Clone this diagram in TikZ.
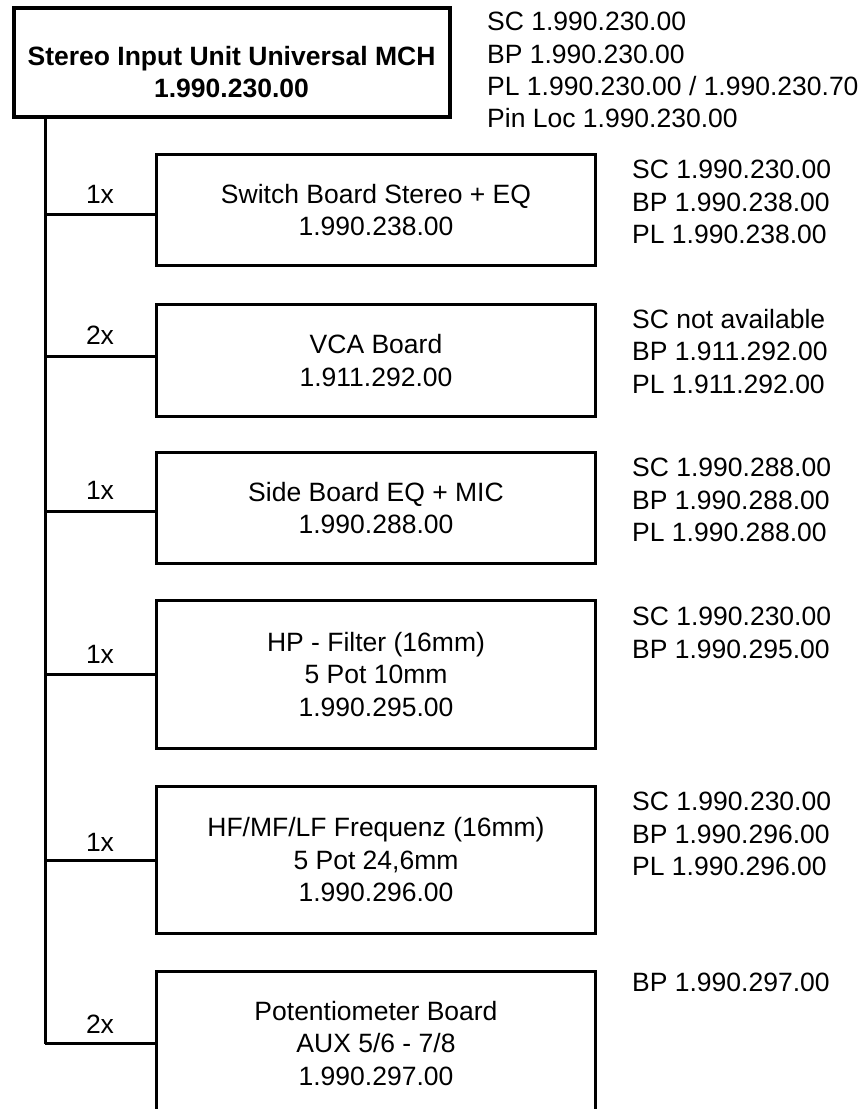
\documentclass[tikz,border=0pt]{standalone}
\usepackage{fontspec}
\setmainfont{Liberation Sans}
\begin{document}
\begin{tikzpicture}[x=1pt,y=-1pt,
  txt/.style={font=\fontsize{26.5}{32.5}\selectfont},
  topbox/.style={draw, line width=4pt, inner sep=0pt, anchor=north west, minimum width=436pt, minimum height=109.5pt},
  boardbox/.style={draw, line width=3pt, inner sep=0pt, anchor=north west, minimum width=439pt, align=center, txt},
  conn/.style={line width=3pt},
  mult/.style={txt, inner sep=0pt},
  info/.style={anchor=north west, align=left, inner sep=0pt, font=\fontsize{26.5}{32.3}\selectfont}]
\useasboundingbox (0,0) rectangle (861,1109);
\clip (0,0) rectangle (861,1109);

% top unit
\node[topbox] (top) at (11.5,5.5) {};
\node[txt, align=center, inner sep=0pt] (toptext) at ([yshift=-10pt]top.center)
  {\textbf{Stereo Input Unit Universal MCH}\\\textbf{1.990.230.00}};
\node[info] (topinfo) at (487,12) {SC 1.990.230.00\\BP 1.990.230.00\\PL 1.990.230.00 / 1.990.230.70\\Pin Loc 1.990.230.00};

% boards
\node[boardbox, minimum height=111pt] (b1) at (155,153) {Switch Board Stereo + EQ\\1.990.238.00};
\node[boardbox, minimum height=112pt] (b2) at (155,303) {VCA Board\\1.911.292.00};
\node[boardbox, minimum height=111pt] (b3) at (155,451) {Side Board EQ + MIC\\1.990.288.00};
\node[boardbox, minimum height=148pt] (b4) at (155,599) {HP - Filter (16mm)\\5 Pot 10mm\\1.990.295.00};
\node[boardbox, minimum height=147pt] (b5) at (155,785) {HF/MF/LF Frequenz (16mm)\\5 Pot 24,6mm\\1.990.296.00};
\node[boardbox, minimum height=144pt] (b6) at (155,970) {Potentiometer Board\\AUX 5/6 - 7/8\\1.990.297.00};

% info texts
\node[info] (i1) at (632,160) {SC 1.990.230.00\\BP 1.990.238.00\\PL 1.990.238.00};
\node[info] (i2) at (632,309) {SC not available\\BP 1.911.292.00\\PL 1.911.292.00};
\node[info] (i3) at (632,458) {SC 1.990.288.00\\BP 1.990.288.00\\PL 1.990.288.00};
\node[info] (i4) at (632,607) {SC 1.990.230.00\\BP 1.990.295.00};
\node[info] (i5) at (632,792) {SC 1.990.230.00\\BP 1.990.296.00\\PL 1.990.296.00};
\node[info] (i6) at (632,973) {BP 1.990.297.00};

% connection points
\coordinate (tr) at (45,0);
\coordinate (c1) at ([yshift=-4.5pt]b1.west);
\coordinate (c2) at ([yshift=4pt]b2.west);
\coordinate (c3) at ([yshift=-3.5pt]b3.west);
\coordinate (c4) at (b4.west);
\coordinate (c5) at (b5.west);
\coordinate (c6) at (b6.west);

% trunk
\draw[conn] (top.south -| tr) -- (c6 -| tr);
% branches
\draw[conn] (c1 -| tr) -- node[mult, yshift=20pt] (m1) {1x} (c1);
\draw[conn] (c2 -| tr) -- node[mult, yshift=21pt] (m2) {2x} (c2);
\draw[conn] (c3 -| tr) -- node[mult, yshift=21pt] (m3) {1x} (c3);
\draw[conn] (c4 -| tr) -- node[mult, yshift=20pt] (m4) {1x} (c4);
\draw[conn] (c5 -| tr) -- node[mult, yshift=18pt] (m5) {1x} (c5);
\draw[conn] (c6 -| tr) -- node[mult, yshift=19pt] (m6) {2x} (c6);
\end{tikzpicture}
\end{document}
